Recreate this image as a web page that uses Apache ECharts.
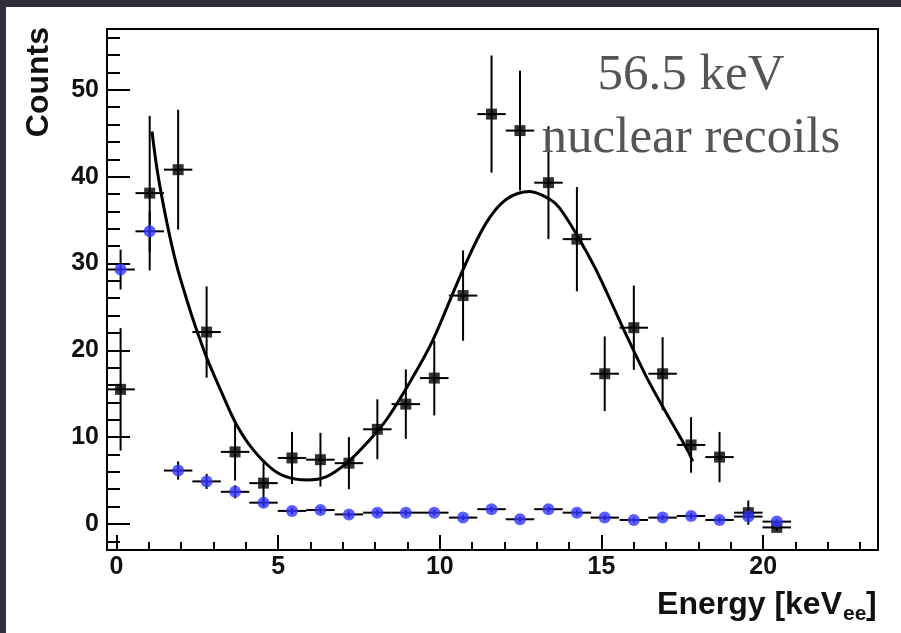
<!DOCTYPE html>
<html>
<head>
<meta charset="utf-8">
<script src="https://cdn.jsdelivr.net/npm/echarts@6/dist/echarts.min.js"></script>
<style>
  html, body { margin: 0; padding: 0; background: #2e2e3c; }
  #panel { position: absolute; left: 6px; top: 7px; width: 895px; height: 626px; background: #ffffff; }
  #chart { position: absolute; left: 0; top: 0; width: 901px; height: 633px; }
</style>
</head>
<body>
<div id="panel"></div>
<div id="chart"></div>
<script>
// Bin centres of the energy histogram (keVee)
const energy = [0.13, 1.03, 1.91, 2.79, 3.67, 4.55, 5.43, 6.31, 7.19, 8.07, 8.95, 9.83,
                10.72, 11.60, 12.48, 13.36, 14.24, 15.10, 16.00, 16.89, 17.77, 18.65, 19.54, 20.42];
const binHalfWidth = 0.44;

// Neutron-source spectrum (black squares) and its errors
const recoilCounts = [15.5, 38.1, 40.8, 22.1, 8.3, 4.7, 7.6, 7.4, 7.0, 10.9, 13.8, 16.8,
                      26.3, 47.2, 45.3, 39.3, 32.8, 17.3, 22.6, 17.3, 9.1, 7.7, 1.3, -0.4];
const recoilErrors = [7.05, 8.9, 6.9, 5.25, 3.3, 2.7, 3.0, 3.1, 3.0, 3.45, 4.0, 4.3,
                      5.2, 6.75, 6.9, 6.5, 6.0, 4.3, 4.85, 4.2, 3.2, 2.9, 1.4, 0.4];

// Background spectrum (blue circles) and its errors
const backgroundCounts = [29.3, 33.7, 6.15, 4.9, 3.7, 2.45, 1.5, 1.6, 1.1, 1.3, 1.3, 1.3,
                          0.73, 1.7, 0.54, 1.7, 1.3, 0.73, 0.46, 0.73, 0.92, 0.46, 0.85, 0.27];
const backgroundErrors = [2.3, 2.4, 1.05, 0.87, 0.75, 0.45, 0.35, 0.35, 0.35, 0.35, 0.35, 0.35,
                          0.3, 0.35, 0.3, 0.35, 0.35, 0.3, 0.3, 0.3, 0.3, 0.3, 0.3, 0.3];

// Fitted curve (exponential + peak), sampled along its length
const fitEnergy = [1.10, 1.26, 1.46, 1.67, 1.87, 2.08, 2.34, 2.59, 2.82, 3.26, 3.72, 4.24,
                   4.86, 5.37, 5.88, 6.50, 7.12, 7.74, 8.35, 9.18, 9.79, 10.72, 11.44, 12.06,
                   12.78, 13.40, 13.70, 14.22, 14.84, 15.70, 16.38, 17.00, 17.66, 17.82];
const fitCounts = [45.2, 40.8, 36.6, 32.8, 29.7, 27.0, 23.9, 21.2, 18.9, 15.1, 11.4, 8.5,
                   6.2, 5.3, 5.07, 5.46, 7.0, 9.3, 12.0, 17.0, 21.2, 29.3, 34.7, 37.4,
                   38.3, 37.4, 36.4, 33.4, 29.2, 22.3, 17.0, 12.8, 8.5, 7.2];

// Axis ranges and tick positions
const xRange = [-0.29, 23.55];
const yRange = [-3, 57];
const xMajorTicks = [0, 5, 10, 15, 20];
const xMinorTicks = [1, 2, 3, 4, 6, 7, 8, 9, 11, 12, 13, 14, 16, 17, 18, 19, 21, 22, 23];
const yMajorTicks = [0, 10, 20, 30, 40, 50];
const yMinorTicks = [-2, 2, 4, 6, 8, 12, 14, 16, 18, 22, 24, 26, 28, 32, 34, 36, 38, 42, 44, 46, 48, 52, 54, 56];

const labelFont = { fontFamily: 'Liberation Sans, Arial, sans-serif', fontWeight: 'bold', fontSize: 25, color: '#111' };
const titleFont = 'bold 32px "Liberation Sans", Arial, sans-serif';

function errorBarSeries(values, errors, color, z) {
  return {
    type: 'custom',
    z: z,
    clip: true,
    encode: { x: 0, y: 1 },
    data: energy.map((x, i) => [x, values[i], errors[i]]),
    renderItem: function (params, api) {
      const x = api.value(0), y = api.value(1), e = api.value(2);
      const c = api.coord([x, y]);
      const top = api.coord([x, y + e]);
      const bot = api.coord([x, y - e]);
      const l = api.coord([x - binHalfWidth, y]);
      const r = api.coord([x + binHalfWidth, y]);
      const st = { stroke: color, lineWidth: 2 };
      return {
        type: 'group',
        children: [
          { type: 'line', shape: { x1: c[0], y1: top[1], x2: c[0], y2: bot[1] }, style: st },
          { type: 'line', shape: { x1: l[0], y1: c[1], x2: r[0], y2: c[1] }, style: st }
        ]
      };
    }
  };
}

const chart = echarts.init(document.getElementById('chart'), null, { renderer: 'canvas' });

chart.setOption({
  animation: false,
  backgroundColor: 'transparent',
  grid: {
    left: 107, top: 29, right: 23, bottom: 83,
    show: true, borderColor: '#000', borderWidth: 2, backgroundColor: 'transparent'
  },
  xAxis: [
    {
      type: 'value', min: xRange[0], max: xRange[1], position: 'bottom',
      axisLine: { show: true, onZero: false, lineStyle: { color: '#000', width: 2 } },
      axisTick: { show: true, inside: true, length: 15, customValues: xMajorTicks, lineStyle: { color: '#000', width: 2 } },
      axisLabel: Object.assign({ customValues: xMajorTicks, margin: 5 }, labelFont),
      splitLine: { show: false }
    },
    {
      type: 'value', min: xRange[0], max: xRange[1], position: 'bottom', offset: 0,
      axisLine: { show: false, onZero: false },
      axisTick: { show: true, inside: true, length: 8, customValues: xMinorTicks, lineStyle: { color: '#000', width: 2 } },
      axisLabel: { show: false },
      splitLine: { show: false }
    }
  ],
  yAxis: [
    {
      type: 'value', min: yRange[0], max: yRange[1], position: 'left',
      axisLine: { show: true, onZero: false, lineStyle: { color: '#000', width: 2 } },
      axisTick: { show: true, inside: true, length: 23, customValues: yMajorTicks, lineStyle: { color: '#000', width: 2 } },
      axisLabel: Object.assign({ customValues: yMajorTicks, margin: 8 }, labelFont),
      splitLine: { show: false }
    },
    {
      type: 'value', min: yRange[0], max: yRange[1], position: 'left', offset: 0,
      axisLine: { show: false, onZero: false },
      axisTick: { show: true, inside: true, length: 13, customValues: yMinorTicks, lineStyle: { color: '#000', width: 2 } },
      axisLabel: { show: false },
      splitLine: { show: false }
    }
  ],
  series: [
    errorBarSeries(recoilCounts, recoilErrors, '#000', 2),
    {
      type: 'scatter', z: 3,
      data: energy.map((x, i) => [x, recoilCounts[i]]),
      symbol: 'rect', symbolSize: 11,
      itemStyle: { color: '#000' }
    },
    {
      type: 'line', z: 4,
      data: fitEnergy.map((x, i) => [x, fitCounts[i]]),
      smooth: 0.35, showSymbol: false, symbol: 'none',
      lineStyle: { color: '#000', width: 3 }
    },
    errorBarSeries(backgroundCounts, backgroundErrors, '#000', 5),
    {
      type: 'scatter', z: 6,
      data: energy.map((x, i) => [x, backgroundCounts[i]]),
      symbol: 'circle', symbolSize: 12,
      itemStyle: { color: '#3434ff' }
    }
  ],
  graphic: [
    { type: 'text', x: 39, y: 27, rotation: Math.PI / 2,
      style: { text: 'Counts', font: titleFont, fill: '#111', align: 'right', verticalAlign: 'middle' } },
    { type: 'text', x: 842, y: 605,
      style: { text: 'Energy [keV', font: titleFont, fill: '#111', align: 'right', verticalAlign: 'middle' } },
    { type: 'text', x: 843, y: 614,
      style: { text: 'ee', font: 'bold 21px "Liberation Sans", Arial, sans-serif', fill: '#111', align: 'left', verticalAlign: 'middle' } },
    { type: 'text', x: 866, y: 605,
      style: { text: ']', font: titleFont, fill: '#111', align: 'left', verticalAlign: 'middle' } },
    { type: 'text', x: 691, y: 76, z: 10,
      style: { text: '56.5 keV', font: '51px "Liberation Serif", "Times New Roman", serif', fill: '#555', align: 'center', verticalAlign: 'middle' } },
    { type: 'text', x: 691, y: 139, z: 10,
      style: { text: 'nuclear recoils', font: '51px "Liberation Serif", "Times New Roman", serif', fill: '#555', align: 'center', verticalAlign: 'middle' } }
  ]
});
</script>
</body>
</html>
